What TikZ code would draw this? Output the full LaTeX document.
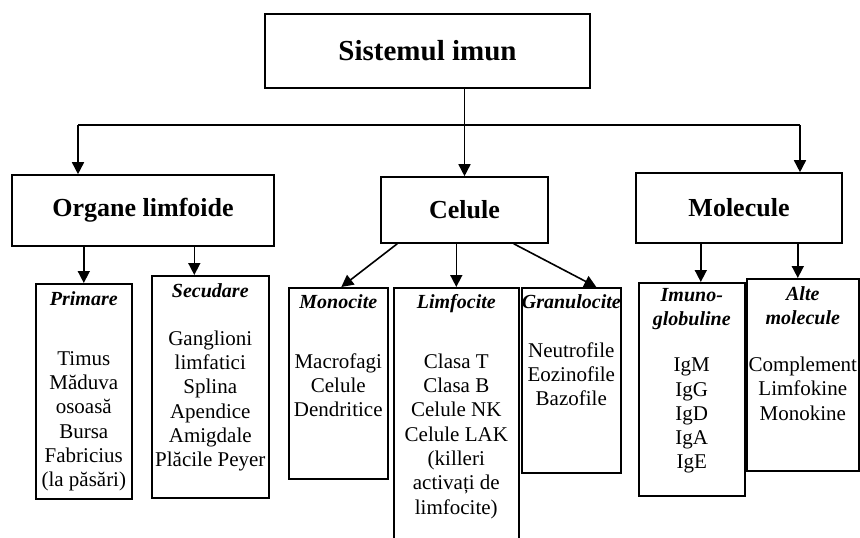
\documentclass[tikz,border=0pt]{standalone}
\usepackage{fontspec}
\setmainfont{Liberation Serif}
\usetikzlibrary{arrows.meta,positioning}
\newcommand{\hd}[1]{{\fontsize{20}{24.3}\selectfont\bfseries\itshape #1}}
\tikzset{
  groupbox/.style={draw, line width=1.6pt, inner sep=0pt, font=\fontsize{26}{30}\selectfont\bfseries},
  leafbox/.style={draw, line width=1.6pt, inner sep=0pt, anchor=north west},
  leaftext/.style={inner sep=0pt, align=center, font=\fontsize{21}{24.3}\selectfont},
  link/.style={line width=1.6pt, -{Triangle[length=12pt,width=12pt]}},
}
\begin{document}
\begin{tikzpicture}[x=1pt, y=-1pt]
\clip (0,0) rectangle (860,538);
\fill[white] (0,0) rectangle (860,538);

% top and group boxes
\node[groupbox, minimum width=325pt, minimum height=74pt, font=\fontsize{29}{34}\selectfont\bfseries] (imun) at (427.5,51) {Sistemul imun};
\node[groupbox, minimum width=262pt, minimum height=71pt] (org) at (143,210.5) {Organe limfoide};
\node[groupbox, minimum width=167pt, minimum height=66pt] (cel) at (464.5,210) {Celule};
\node[groupbox, minimum width=206pt, minimum height=70pt] (mol) at (739,208) {Molecule};

% leaf boxes
\node[leafbox, minimum width=96pt, minimum height=215pt] (prim) at (35,283) {};
\node[leafbox, minimum width=117pt, minimum height=222pt] (sec) at (151,275) {};
\node[leafbox, minimum width=99pt, minimum height=191pt] (mono) at (288,287) {};
\node[leafbox, minimum width=125pt, minimum height=270pt] (lim) at (393,287) {};
\node[leafbox, minimum width=99pt, minimum height=185pt] (gran) at (521,287) {};
\node[leafbox, minimum width=106pt, minimum height=213pt] (imuno) at (638,282) {};
\node[leafbox, minimum width=112pt, minimum height=192pt] (alte) at (746,278) {};

% texts
\node[leaftext, below=8pt of prim.north] (primtxt) {\hd{Primare}\\[35.8pt] Timus\\ Măduva\\ osoasă\\ Bursa\\ Fabricius\\ (la păsări)};
\node[leaftext, below=8pt of sec.north] (sectxt) {\hd{Secudare}\\[23.8pt] Ganglioni\\ limfatici\\ Splina\\ Apendice\\ Amigdale\\ Plăcile Peyer};
\node[leaftext, below=7pt of mono.north] (monotxt) {\hd{Monocite}\\[35.8pt] Macrofagi\\ Celule\\ Dendritice};
\node[leaftext, below=7pt of lim.north] (limtxt) {\hd{Limfocite}\\[35.8pt] Clasa T\\ Clasa B\\ Celule NK\\ Celule LAK\\ (killeri\\ activați de\\ limfocite)};
\node[leaftext, below=7pt of gran.north] (grantxt) {\hd{Granulocite}\\[24.8pt] Neutrofile\\ Eozinofile\\ Bazofile};
\node[leaftext, below=6pt of imuno.north] (imunotxt) {\hd{Imuno-}\\ \hd{globuline}\\[21.8pt] IgM\\ IgG\\ IgD\\ IgA\\ IgE};
\node[leaftext, below=8pt of alte.north] (altetxt) {\hd{Alte}\\ \hd{molecule}\\[22.8pt] Complement\\ Limfokine\\ Monokine};

% connectors
\coordinate (hl) at (78,125);
\coordinate (hr) at (800,125);
\draw[line width=1.6pt] (hl) -- (hr);
\draw[link] (hl) -- (hl |- org.north);
\draw[link] (hr) -- (hr |- mol.north);
\draw[link] (imun.south -| cel.north) -- (cel.north);
\draw[link] (org.south -| prim.north) -- (prim.north);
\draw[link] ([xshift=-16pt]sec.north |- org.south) -- ([xshift=-16pt]sec.north);
\draw[link] ([xshift=17pt]cel.south west) -- ([xshift=3pt]mono.north);
\draw[link] (cel.south -| lim.north) -- (lim.north);
\draw[link] ([xshift=-35pt]cel.south east) -- ([xshift=25pt]gran.north);
\draw[link] ([xshift=9pt]imuno.north |- mol.south) -- ([xshift=9pt]imuno.north);
\draw[link] ([xshift=-5pt]alte.north |- mol.south) -- ([xshift=-5pt]alte.north);
\end{tikzpicture}
\end{document}
